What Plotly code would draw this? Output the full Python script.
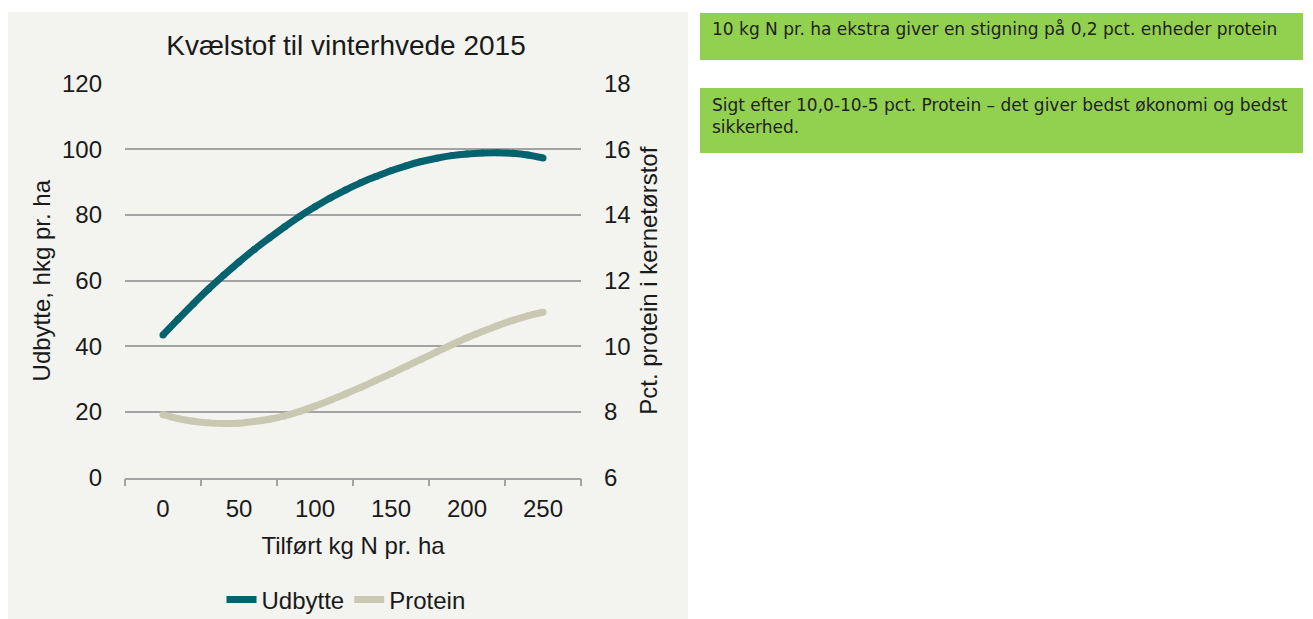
import plotly.graph_objects as go

# ---------------- data ----------------
n_kg = [0, 10, 20, 30, 40, 50, 60, 70, 80, 90, 100, 110, 120, 130, 140, 150,
        160, 170, 180, 190, 200, 210, 220, 230, 240, 250]
udbytte = [43.5, 48.3, 53.0, 57.5, 61.7, 65.7, 69.5, 73.0, 76.4, 79.6, 82.5,
           85.2, 87.6, 89.8, 91.7, 93.5, 95.0, 96.3, 97.3, 98.1, 98.6, 98.9,
           99.0, 98.8, 98.3, 97.4]
protein = [7.92, 7.80, 7.72, 7.67, 7.65, 7.66, 7.71, 7.78, 7.88, 8.02, 8.18,
           8.36, 8.55, 8.75, 8.96, 9.17, 9.39, 9.61, 9.83, 10.05, 10.26, 10.45,
           10.63, 10.79, 10.93, 11.04]
x_ticks = [0, 50, 100, 150, 200, 250]
x_tickmarks = [-25, 25, 75, 125, 175, 225, 275]
y_left_ticks = [0, 20, 40, 60, 80, 100, 120]
y_right_ticks = [6, 8, 10, 12, 14, 16, 18]

title_text = "Kvælstof til vinterhvede 2015"
box1_text = "10 kg N pr. ha ekstra giver en stigning på 0,2 pct. enheder protein"
box2_text = "Sigt efter 10,0-10-5 pct. Protein – det giver bedst økonomi og bedst<br>sikkerhed."

# ---------------- styling ----------------
W, H = 1313, 619
TEAL = "#05636f"
BEIGE = "#c9c9b3"
BG = "#f3f3ef"
GRID = "#a3a3a3"
GREEN = "#92d050"
TXT = "#1a1a1a"
FONT = "Liberation Sans, Arial, sans-serif"
BOXFONT = "DejaVu Sans, Verdana, sans-serif"
FS = 24

def px(x):
    return x / W

def py(y):
    return 1 - y / H

fig = go.Figure()
fig.add_trace(go.Scatter(
    x=n_kg, y=udbytte, name="Udbytte", mode="lines+markers",
    line=dict(color=TEAL, width=7, shape="spline"),
    marker=dict(color=TEAL, size=7), yaxis="y"))
fig.add_trace(go.Scatter(
    x=n_kg, y=protein, name="Protein", mode="lines+markers",
    line=dict(color=BEIGE, width=7, shape="spline"),
    marker=dict(color=BEIGE, size=7), yaxis="y2"))

fig.update_layout(
    template="none",
    width=W, height=H, autosize=False,
    margin=dict(l=0, r=0, t=0, b=0, pad=0, autoexpand=False),
    paper_bgcolor="white",
    plot_bgcolor=BG,
    font=dict(family=FONT, size=FS, color=TXT),
    showlegend=True,
    title=dict(text=title_text, x=px(346), y=py(45), xanchor="center",
               yanchor="middle", xref="paper", yref="paper",
               font=dict(family=FONT, size=28, color=TXT)),
    xaxis=dict(
        domain=[px(125), px(581)], range=[-25, 275], automargin=False,
        tickmode="array", tickvals=x_ticks, ticks="",
        tickfont=dict(size=FS, color=TXT),
        showline=True, linecolor=GRID, linewidth=1.5,
        showgrid=False, zeroline=False, ticklabelstandoff=9,
        minor=dict(tickmode="array", tickvals=x_tickmarks, ticks="outside",
                   ticklen=7, tickcolor=GRID, tickwidth=1.5, showgrid=False),
        title=dict(text="Tilført kg N pr. ha", standoff=16,
                   font=dict(size=FS, color=TXT)),
    ),
    yaxis=dict(
        domain=[py(477.7), py(83.7)], range=[0, 120], automargin=False,
        tickmode="array", tickvals=y_left_ticks, ticks="",
        tickfont=dict(size=FS, color=TXT),
        showgrid=True, gridcolor=GRID, gridwidth=1.5, zeroline=False,
        showline=False, ticklabelstandoff=22,
        title=dict(text="Udbytte, hkg pr. ha", standoff=4,
                   font=dict(size=FS, color=TXT)),
    ),
    yaxis2=dict(
        overlaying="y", side="right", range=[6, 18], automargin=False,
        tickmode="array", tickvals=y_right_ticks, ticks="",
        tickfont=dict(size=FS, color=TXT),
        showgrid=False, zeroline=False, showline=False, ticklabelstandoff=22,
        title=dict(text="Pct. protein i kernetørstof", standoff=10,
                   font=dict(size=FS, color=TXT)),
    ),
    legend=dict(orientation="h", x=px(346), y=py(600), xanchor="center",
                yanchor="middle", bgcolor="rgba(0,0,0,0)",
                font=dict(size=FS, color=TXT), itemwidth=30, tracegroupgap=0),
    shapes=[
        dict(type="rect", xref="paper", yref="paper", layer="below",
             x0=px(8), x1=px(688), y0=0, y1=py(12),
             fillcolor=BG, line=dict(width=0)),
        dict(type="rect", xref="paper", yref="paper", layer="below",
             x0=px(700), x1=px(1303), y0=py(60), y1=py(13),
             fillcolor=GREEN, line=dict(width=0)),
        dict(type="rect", xref="paper", yref="paper", layer="below",
             x0=px(700), x1=px(1303), y0=py(153), y1=py(88),
             fillcolor=GREEN, line=dict(width=0)),
    ],
    annotations=[
        dict(text=box1_text, xref="paper", yref="paper", x=px(710), y=py(29),
             xanchor="left", yanchor="middle", showarrow=False, align="left",
             font=dict(family=BOXFONT, size=17, color="#222222")),
        dict(text=box2_text, xref="paper", yref="paper", x=px(710), y=py(116),
             xanchor="left", yanchor="middle", showarrow=False, align="left",
             font=dict(family=BOXFONT, size=17, color="#222222")),
    ],
)

fig.write_html("out.html", config={"displayModeBar": False},
               post_script="document.body.style.margin='0px';")
